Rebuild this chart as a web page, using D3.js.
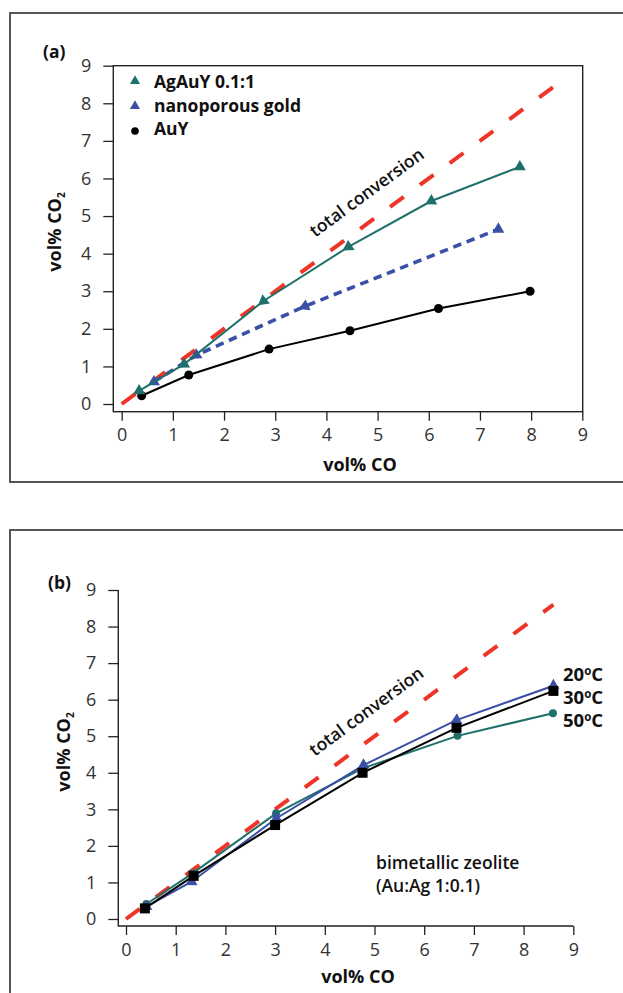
<!DOCTYPE html>
<html>
<head>
<meta charset="utf-8">
<script src="https://cdn.jsdelivr.net/npm/d3@7"></script>
<style>
  body { margin: 0; background: #fff; }
  svg { display: block; }
  text { font-family: "Open Sans", "Liberation Sans", sans-serif; }
</style>
</head>
<body>
<svg id="chart" width="623" height="993"></svg>
<script>
// ---- panel (a) data ----
var agauyCO  = [0.34, 1.22, 2.77, 4.43, 6.05, 7.78];
var agauyCO2 = [0.35, 1.06, 2.74, 4.18, 5.40, 6.31];
var npgCO    = [0.63, 1.46, 3.58, 7.36];
var npgCO2   = [0.59, 1.30, 2.60, 4.65];
var auyCO    = [0.39, 1.31, 2.88, 4.46, 6.19, 7.98];
var auyCO2   = [0.22, 0.77, 1.46, 1.95, 2.54, 3.00];

// ---- panel (b) data ----
var t20CO  = [0.41, 1.32, 3.02, 4.78, 6.65, 8.60];
var t20CO2 = [0.34, 1.02, 2.75, 4.21, 5.44, 6.38];
var t30CO  = [0.38, 1.36, 3.00, 4.76, 6.65, 8.60];
var t30CO2 = [0.29, 1.18, 2.57, 4.00, 5.23, 6.24];
var t50CO  = [0.41, 1.34, 3.02, 4.76, 6.67, 8.59];
var t50CO2 = [0.41, 1.25, 2.89, 4.12, 5.01, 5.63];

// total conversion line (CO2 = CO)
var totalCO  = [0, 8.6];
var totalCO2 = [0, 8.6];

var ticks = [0, 1, 2, 3, 4, 5, 6, 7, 8, 9];
var legendA = ["AgAuY 0.1:1", "nanoporous gold", "AuY"];
var tempLabels = ["20", "30", "50"];

var teal = "#1f6f6a", blue = "#3a4fa6", red = "#ee3427", black = "#000";

var svg = d3.select("#chart");

function zip(xs, ys) { return xs.map(function(v, i) { return [v, ys[i]]; }); }

// triangles at mid points point back along the line, end point upright
function triAngle(px, i) {
  if (i == 0 || i == px.length - 1) return 0;
  var a = Math.atan2(px[i-1][1] - px[i][1], px[i-1][0] - px[i][0]) * 180 / Math.PI;
  return a + 90;
}

function drawSeries(g, x, y, pts, opt) {
  var line = d3.line().x(function(d) { return x(d[0]); }).y(function(d) { return y(d[1]); });
  g.append("path")
    .attr("d", line(pts))
    .attr("fill", "none")
    .attr("stroke", opt.color)
    .attr("stroke-width", opt.width || 2)
    .attr("stroke-dasharray", opt.dash || null);
  var px = pts.map(function(d) { return [x(d[0]), y(d[1])]; });
  if (opt.marker == "tri") {
    g.selectAll(null).data(px).enter().append("path")
      .attr("d", d3.symbol().type(d3.symbolTriangle).size(62)())
      .attr("transform", function(d, i) { return "translate(" + d[0] + "," + d[1] + ") rotate(" + triAngle(px, i) + ")"; })
      .attr("fill", opt.color);
  } else if (opt.marker == "dot") {
    g.selectAll(null).data(px).enter().append("circle")
      .attr("cx", function(d) { return d[0]; })
      .attr("cy", function(d) { return d[1]; })
      .attr("r", opt.r || 4.5)
      .attr("fill", opt.color);
  } else if (opt.marker == "sq") {
    g.selectAll(null).data(px).enter().append("rect")
      .attr("x", function(d) { return d[0] - 5; })
      .attr("y", function(d) { return d[1] - 5; })
      .attr("width", 10).attr("height", 10)
      .attr("fill", opt.color);
  }
}

function styleAxis(g) {
  g.select(".domain").remove();
  g.selectAll(".tick line").attr("stroke", "#222").attr("stroke-width", 1.3);
  g.selectAll(".tick text")
    .attr("fill", "#333")
    .style("font-size", "18px")
    .style("font-weight", "normal");
}

function totalConv(g, x, y, lx, ly) {
  drawSeries(g, x, y, zip(totalCO, totalCO2), { color: red, width: 4, dash: "17,20" });
  var ang = Math.atan2(y(1) - y(0), x(1) - x(0)) * 180 / Math.PI;
  g.append("text")
    .attr("transform", "translate(" + x(lx) + "," + y(ly) + ") rotate(" + ang + ")")
    .style("font-size", "17.5px")
    .style("font-weight", "600")
    .attr("fill", "#111")
    .text("total conversion");
}

function yTitle(cx, cy) {
  var t = svg.append("text")
    .attr("transform", "translate(" + cx + "," + cy + ") rotate(-90)")
    .attr("text-anchor", "middle")
    .style("font-size", "18px")
    .style("font-weight", "bold")
    .attr("fill", "#111");
  t.append("tspan").text("vol% CO");
  t.append("tspan").attr("dy", 4).style("font-size", "10px").text("2");
}

function xTitle(cx, cy) {
  svg.append("text")
    .attr("x", cx).attr("y", cy)
    .attr("text-anchor", "middle")
    .style("font-size", "18px")
    .style("font-weight", "bold")
    .attr("fill", "#111")
    .text("vol% CO");
}

// ================= panel (a) =================
svg.append("rect").attr("x", 10).attr("y", 13).attr("width", 640).attr("height", 469)
  .attr("fill", "none").attr("stroke", "#555").attr("stroke-width", 2);

var xA = d3.scaleLinear().domain([0, 9]).range([121.7, 582.3]);
var yA = d3.scaleLinear().domain([0, 9]).range([404, 65.7]);
var boxL = xA(0) - 8.4, boxB = yA(0) + 7.7;

var gA = svg.append("g");
gA.append("rect")
  .attr("x", boxL).attr("y", yA(9))
  .attr("width", xA(9) + 0.4 - boxL).attr("height", boxB - yA(9))
  .attr("fill", "none").attr("stroke", "#222").attr("stroke-width", 1.4);

gA.append("g").attr("transform", "translate(0," + boxB + ")")
  .call(d3.axisBottom(xA).tickValues(ticks).tickSize(9).tickPadding(8).tickSizeOuter(0))
  .call(styleAxis);
gA.append("g").attr("transform", "translate(" + boxL + ",0)")
  .call(d3.axisLeft(yA).tickValues(ticks).tickSize(10).tickPadding(12).tickSizeOuter(0))
  .call(styleAxis);

totalConv(gA, xA, yA, 3.78, 4.42);
drawSeries(gA, xA, yA, zip(auyCO, auyCO2), { color: black, marker: "dot" });
drawSeries(gA, xA, yA, zip(npgCO, npgCO2), { color: blue, width: 3.6, dash: "8.5,5.8", marker: "tri" });
drawSeries(gA, xA, yA, zip(agauyCO, agauyCO2), { color: teal, marker: "tri" });

// legend (a)
var legColors = [teal, blue, black];
var legG = gA.append("g").attr("transform", "translate(135,81)");
legColors.forEach(function(c, i) {
  if (i < 2) {
    legG.append("path").attr("d", d3.symbol().type(d3.symbolTriangle).size(44)())
      .attr("transform", "translate(0," + (i * 25) + ")").attr("fill", c);
  } else {
    legG.append("circle").attr("cx", 0).attr("cy", i * 25).attr("r", 3.8).attr("fill", c);
  }
  legG.append("text")
    .attr("x", 19).attr("y", i * 23.5 + 7)
    .style("font-size", "17.5px").style("font-weight", "bold").attr("fill", "#111")
    .text(legendA[i]);
});

svg.append("text").attr("x", 43).attr("y", 57.5)
  .style("font-size", "17.5px").style("font-weight", "bold").attr("fill", "#111").text("(a)");
yTitle(60.5, 232);
xTitle(360, 471);

// ================= panel (b) =================
svg.append("rect").attr("x", 10).attr("y", 530).attr("width", 640).attr("height", 500)
  .attr("fill", "none").attr("stroke", "#555").attr("stroke-width", 2);

var xB = d3.scaleLinear().domain([0, 9]).range([126, 573.3]);
var yB = d3.scaleLinear().domain([0, 9]).range([919, 590]);
var axL = xB(0) - 7.7, axB = yB(0) + 7;

var gB = svg.append("g");
gB.append("path")
  .attr("d", "M" + axL + "," + yB(9) + "V" + axB + "H" + xB(9))
  .attr("fill", "none").attr("stroke", "#222").attr("stroke-width", 1.4);

gB.append("g").attr("transform", "translate(0," + axB + ")")
  .call(d3.axisBottom(xB).tickValues(ticks).tickSize(9).tickPadding(8).tickSizeOuter(0))
  .call(styleAxis);
gB.append("g").attr("transform", "translate(" + axL + ",0)")
  .call(d3.axisLeft(yB).tickValues(ticks).tickSize(10).tickPadding(12).tickSizeOuter(0))
  .call(styleAxis);

totalConv(gB, xB, yB, 3.80, 4.44);
drawSeries(gB, xB, yB, zip(t50CO, t50CO2), { color: teal, marker: "dot", r: 4 });
drawSeries(gB, xB, yB, zip(t20CO, t20CO2), { color: blue, marker: "tri" });
drawSeries(gB, xB, yB, zip(t30CO, t30CO2), { color: black, marker: "sq" });

tempLabels.forEach(function(t, i) {
  var tx = gB.append("text")
    .attr("x", 563).attr("y", 681 + i * 23)
    .style("font-size", "18.5px").style("font-weight", "bold").attr("fill", "#111");
  tx.append("tspan").text(t);
  tx.append("tspan").attr("dy", -6).style("font-size", "11.5px").text("o");
  tx.append("tspan").attr("dy", 6).text("C");
});

gB.append("text").attr("x", 376).attr("y", 869)
  .style("font-size", "17.5px").style("font-weight", "600").attr("fill", "#111").text("bimetallic zeolite");
gB.append("text").attr("x", 376).attr("y", 892)
  .style("font-size", "17.5px").style("font-weight", "600").attr("fill", "#111").text("(Au:Ag 1:0.1)");

svg.append("text").attr("x", 48).attr("y", 589)
  .style("font-size", "17.5px").style("font-weight", "bold").attr("fill", "#111").text("(b)");
yTitle(70, 752);
xTitle(358, 983);
</script>
</body>
</html>
